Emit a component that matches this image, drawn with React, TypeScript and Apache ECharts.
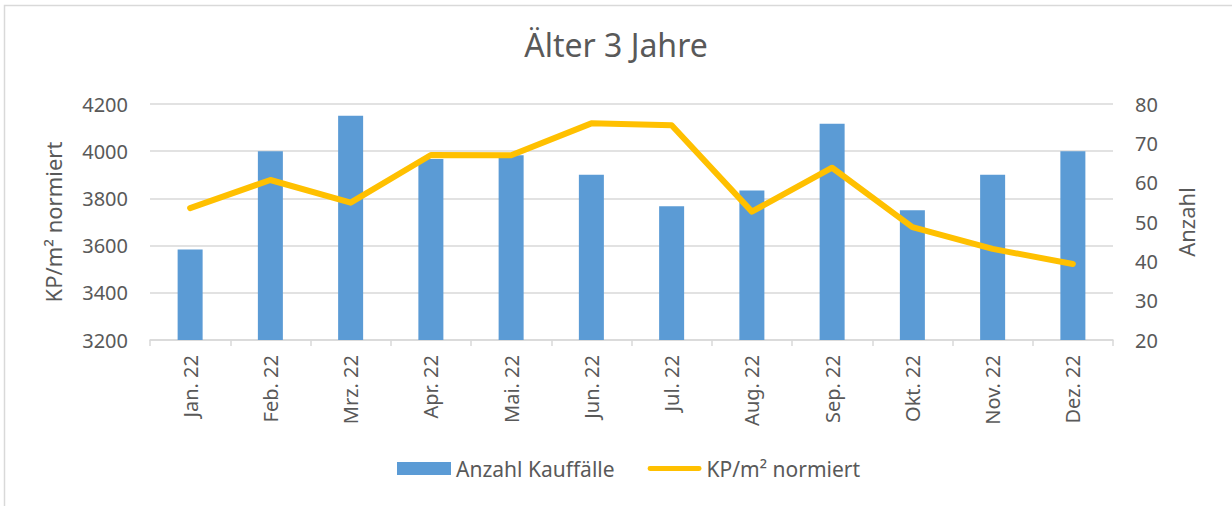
import React, { useEffect, useRef } from "react";
import * as echarts from "echarts";

const categories = ["Jan. 22", "Feb. 22", "Mrz. 22", "Apr. 22", "Mai. 22", "Jun. 22", "Jul. 22", "Aug. 22", "Sep. 22", "Okt. 22", "Nov. 22", "Dez. 22"];
const anzahlKauffaelle = [43, 68, 77, 66, 67, 62, 54, 58, 75, 53, 62, 68];
const kpNormiert = [3759, 3878, 3782, 3984, 3983, 4118, 4110, 3744, 3930, 3678, 3586, 3522];

const FONT = "'Noto Sans', sans-serif";
const TEXT = "#595959";
const GRID = "#d9d9d9";
const LINE_ICON = "path://M2.5,0 L53.5,0 A2.5,2.5 0 0 1 53.5,5 L2.5,5 A2.5,2.5 0 0 1 2.5,0 Z";

export default function App() {
  const ref = useRef<HTMLDivElement>(null);
  useEffect(() => {
    document.body.style.margin = "0";
    if (!ref.current) return;
    const chart = echarts.init(ref.current, undefined, { renderer: "svg" });
    chart.setOption({
      animation: false,
      textStyle: { fontFamily: FONT, color: TEXT },
      title: {
        text: "Älter 3 Jahre",
        left: "center",
        top: 23,
        textStyle: { fontFamily: FONT, fontSize: 32, fontWeight: "normal", color: TEXT },
      },
      graphic: [
        {
          type: "rect",
          shape: { x: 4.5, y: 5.5, width: 1300, height: 600 },
          style: { fill: "none", stroke: GRID, lineWidth: 1.5 },
          silent: true,
        },
      ],
      legend: {
        bottom: 22,
        left: 392,
        itemWidth: 54,
        itemHeight: 13,
        itemGap: 33,
        textStyle: { fontFamily: FONT, fontSize: 21, color: TEXT },
        data: [
          { name: "Anzahl Kauffälle", icon: "rect" },
          { name: "KP/m² normiert", icon: LINE_ICON, itemStyle: { color: "#FFC000" } },
        ],
      },
      grid: { left: 150, right: 119, top: 104, bottom: 166, containLabel: false },
      xAxis: {
        type: "category",
        data: categories,
        boundaryGap: true,
        axisLine: { show: true, lineStyle: { color: GRID, width: 1.5 } },
        axisTick: { show: true, length: 6, lineStyle: { color: GRID, width: 1.5 } },
        axisLabel: { rotate: 90, margin: 15, fontSize: 20, color: TEXT, fontFamily: FONT },
      },
      yAxis: [
        {
          type: "value",
          min: 3200,
          max: 4200,
          interval: 200,
          name: "KP/m² normiert",
          nameLocation: "middle",
          nameRotate: 90,
          nameGap: 86,
          nameTextStyle: { fontSize: 22, color: TEXT, fontFamily: FONT },
          axisLine: { show: false },
          axisTick: { show: false },
          axisLabel: { margin: 22, fontSize: 20, color: TEXT, fontFamily: FONT, formatter: (v: number) => String(v) },
          splitLine: { show: true, lineStyle: { color: GRID, width: 1.5 } },
        },
        {
          type: "value",
          min: 20,
          max: 80,
          interval: 10,
          position: "right",
          name: "Anzahl",
          nameLocation: "middle",
          nameRotate: 90,
          nameGap: 62,
          nameTextStyle: { fontSize: 22, color: TEXT, fontFamily: FONT },
          axisLine: { show: false },
          axisTick: { show: false },
          axisLabel: { margin: 22, fontSize: 20, color: TEXT, fontFamily: FONT, formatter: (v: number) => String(v) },
          splitLine: { show: false },
        },
      ],
      series: [
        {
          name: "Anzahl Kauffälle",
          type: "bar",
          yAxisIndex: 1,
          data: anzahlKauffaelle,
          barWidth: 25,
          itemStyle: { color: "#5B9BD5" },
        },
        {
          name: "KP/m² normiert",
          type: "line",
          yAxisIndex: 0,
          data: kpNormiert,
          symbol: "none",
          lineStyle: { color: "#FFC000", width: 6, cap: "round", join: "round" },
          itemStyle: { color: "#FFC000" },
        },
      ],
    });
    return () => chart.dispose();
  }, []);
  return <div ref={ref} style={{ width: 1232, height: 506 }} />;
}
